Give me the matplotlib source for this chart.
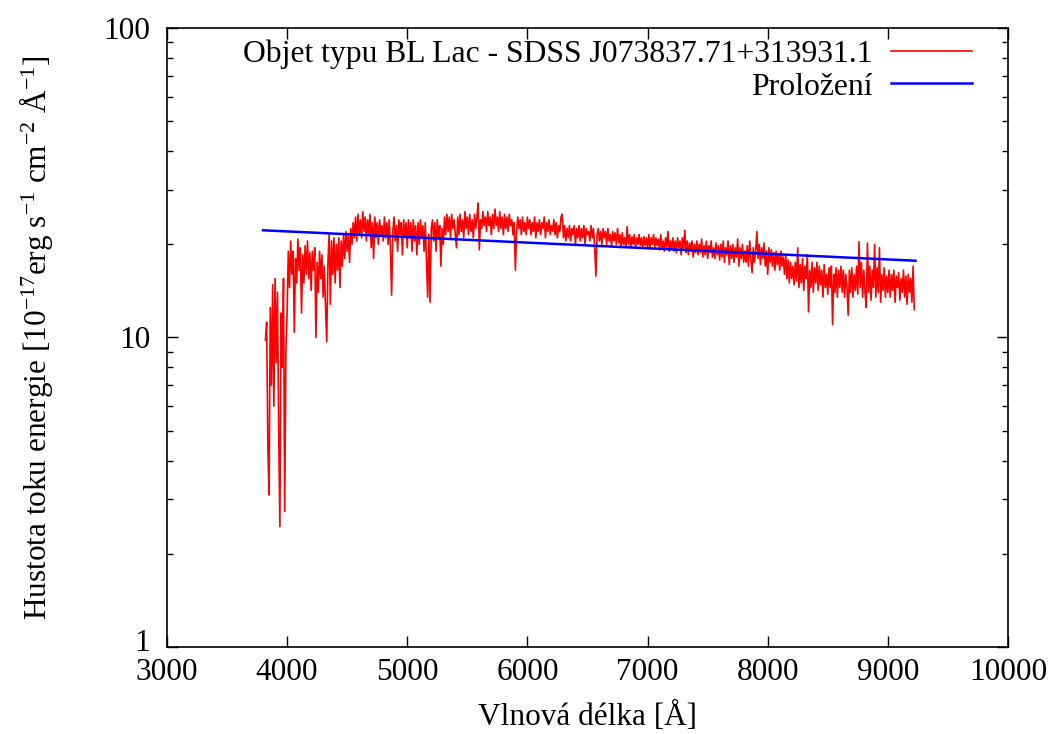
import numpy as np
import matplotlib
matplotlib.use('Agg')
import matplotlib.pyplot as plt
from matplotlib.transforms import ScaledTranslation

plt.rcParams['font.family'] = ['Liberation Serif', 'DejaVu Serif']
plt.rcParams['mathtext.fontset'] = 'custom'
plt.rcParams['mathtext.rm'] = 'Liberation Serif'
plt.rcParams['mathtext.it'] = 'Liberation Serif:italic'

# wavelength grid of the spectrum [A], step 10 A
wavelength = np.arange(3820, 9221, 10)

# flux, one row = 200 A
flux = [
    9.8, 11.2, 4.4, 3.1, 12.5, 7.0, 14.8, 6.0, 15.5, 8.3, 14.0, 5.0, 2.45, 12.0, 8.0, 15.5, 2.74, 9.0, 12.0, 19.0,
    14.5, 20.5, 16.0, 19.0, 10.4, 18.0, 15.0, 20.8, 16.5, 19.5, 12.0, 18.5, 15.0, 19.8, 16.0, 20.5, 15.5, 18.8, 14.2, 19.0,
    16.5, 19.5, 10.0, 17.5, 14.0, 19.0, 15.5, 18.5, 13.5, 17.0, 12.5, 9.7, 17.5, 21.5, 12.8, 20.5, 16.0, 21.0, 15.0, 20.0,
    16.5, 21.0, 14.5, 20.5, 17.0, 21.5, 18.0, 22.0, 19.0, 21.5, 17.5, 22.5, 20.0, 23.5, 21.0, 24.5, 20.5, 25.0, 21.5, 24.0,
    21.0, 25.5, 22.0, 24.5, 20.5, 24.0, 21.5, 25.0, 19.5, 23.5, 18.0, 24.5, 21.0, 23.5, 20.0, 24.0, 21.5, 23.0, 20.5, 24.5,
    21.0, 23.5, 20.0, 24.0, 19.5, 13.7, 22.0, 24.5, 20.5, 23.0, 19.0, 24.0, 21.5, 23.5, 18.5, 24.0, 21.0, 23.5, 19.5, 24.0,
    21.0, 23.5, 19.0, 24.0, 20.5, 23.0, 18.5, 23.5, 20.0, 24.0, 21.0, 23.0, 19.0, 23.5, 18.0, 13.5, 21.5, 13.0, 22.5, 24.0,
    20.5, 23.5, 19.0, 24.0, 21.0, 23.0, 17.0, 22.5, 20.0, 24.5, 21.5, 25.0, 22.0, 24.5, 21.0, 25.0, 22.5, 24.0, 21.5, 19.5,
    24.5, 21.5, 25.0, 22.0, 24.0, 21.0, 25.5, 22.5, 24.5, 21.5, 25.0, 22.0, 24.0, 21.0, 25.0, 22.5, 24.5, 27.2, 19.2, 24.0,
    22.5, 25.5, 23.0, 24.5, 22.0, 25.5, 23.0, 24.5, 21.5, 25.0, 22.5, 26.0, 23.0, 24.5, 22.0, 25.5, 22.5, 24.5, 21.5, 25.0,
    22.5, 24.5, 22.0, 25.0, 23.0, 24.0, 21.5, 23.5, 16.5, 22.0, 24.5, 22.5, 24.0, 21.5, 24.5, 22.0, 23.5, 21.5, 24.5, 22.5,
    24.0, 21.5, 23.5, 22.0, 24.5, 21.0, 23.5, 22.0, 24.0, 21.5, 23.5, 22.5, 24.5, 21.0, 23.5, 22.0, 24.0, 21.5, 23.0, 22.0,
    24.0, 21.5, 23.5, 21.0, 23.0, 22.0, 24.5, 25.0, 21.0, 23.0, 20.5, 22.5, 21.0, 23.0, 20.5, 22.5, 21.5, 23.0, 20.0, 22.5,
    21.0, 23.0, 20.5, 22.5, 21.0, 23.0, 20.0, 22.5, 21.5, 22.0, 20.5, 23.0, 21.0, 22.5, 19.5, 15.8, 21.5, 22.5, 20.5, 22.0,
    20.0, 22.5, 21.0, 22.0, 20.0, 22.5, 20.5, 21.5, 19.8, 22.0, 20.5, 21.8, 20.0, 22.5, 20.2, 21.5, 19.5, 21.8, 20.0, 21.0,
    19.5, 22.8, 20.0, 21.5, 19.5, 21.2, 20.0, 21.5, 19.5, 21.0, 20.0, 21.5, 19.8, 21.0, 19.5, 21.2, 19.8, 21.0, 19.5, 21.5,
    19.5, 21.0, 20.0, 21.5, 19.5, 21.0, 19.8, 20.8, 19.2, 21.5, 19.5, 20.5, 19.0, 21.0, 19.5, 22.0, 19.0, 20.5, 19.2, 21.0,
    19.0, 20.5, 18.8, 21.0, 19.5, 20.5, 18.5, 21.0, 19.2, 22.2, 18.8, 20.5, 18.5, 20.2, 19.0, 20.5, 18.2, 20.0, 18.8, 20.5,
    18.5, 20.0, 18.8, 20.8, 18.2, 19.8, 18.5, 20.5, 18.0, 19.8, 18.8, 20.5, 18.2, 19.5, 18.0, 20.2, 18.5, 19.8, 17.8, 20.0,
    18.2, 20.5, 17.5, 19.5, 18.5, 20.5, 17.2, 19.8, 18.0, 20.0, 17.5, 19.5, 18.2, 20.8, 17.0, 19.5, 18.0, 20.0, 17.5, 19.0,
    17.5, 19.8, 17.0, 20.5, 18.0, 16.2, 19.5, 17.5, 19.0, 22.0, 18.0, 20.0, 17.2, 19.5, 18.0, 20.2, 17.0, 19.0, 16.0, 19.5,
    17.5, 19.2, 17.0, 18.8, 16.5, 19.0, 17.2, 18.5, 16.5, 19.0, 17.0, 18.2, 16.0, 18.5, 15.5, 17.8, 15.0, 17.5, 15.5, 17.0,
    14.8, 17.5, 15.2, 19.5, 14.5, 17.2, 15.0, 18.0, 14.2, 17.0, 15.5, 18.5, 12.1, 16.5, 14.5, 17.5, 14.0, 16.8, 15.0, 17.5,
    14.2, 17.0, 14.8, 16.5, 13.5, 17.2, 14.5, 16.0, 13.8, 16.8, 14.5, 17.0, 11.0, 16.0, 14.0, 16.8, 13.5, 16.5, 14.5, 17.0,
    14.0, 16.5, 13.5, 16.0, 14.5, 11.8, 16.5, 14.0, 16.8, 13.5, 16.0, 14.2, 17.0, 13.8, 20.4, 14.5, 17.5, 13.5, 16.5, 14.0,
    12.5, 20.2, 14.0, 17.0, 13.2, 16.5, 14.5, 20.0, 13.5, 16.8, 14.0, 19.5, 13.0, 16.0, 14.2, 16.8, 13.5, 15.8, 14.0, 16.5,
    13.5, 16.0, 14.2, 16.5, 13.0, 15.8, 14.5, 16.2, 13.2, 15.5, 14.0, 16.5, 13.5, 15.8, 12.8, 16.0, 14.0, 15.5, 13.0, 17.0,
    12.3,
]

# fitted continuum
fit_wavelength = [3800, 9230]
fit_flux = [22.2, 17.7]

label_spec = 'Objet typu BL Lac - SDSS J073837.71+313931.1'
label_fit = 'Proložení'

fig = plt.figure(figsize=(10.5, 7.34), dpi=100)
ax = fig.add_axes([0.159, 0.1185, 0.801, 0.8434])

ax.plot(wavelength, flux, color='#ff0000', lw=1.2, label=label_spec)
ax.plot(fit_wavelength, fit_flux, color='#0000ff', lw=1.8, label=label_fit)

ax.set_yscale('log')
ax.set_xlim(3000, 10000)
ax.set_ylim(1, 100)
ax.set_xticks(range(3000, 10001, 1000))
ax.set_yticks([1, 10, 100])
ax.set_yticklabels(['1', '10', '100'])

ax.tick_params(which='both', direction='in', top=True, right=True, labelsize=22.5)
ax.tick_params(which='major', length=8, width=1)
ax.tick_params(which='minor', length=4, width=1)
ax.tick_params(axis='y', pad=12)
ax.tick_params(axis='x', pad=8)
for s in ax.spines.values():
    s.set_linewidth(1.2)

# lift the "1" a little so it does not run into "3000"
lab = ax.yaxis.get_majorticklabels()[0]
lab.set_transform(lab.get_transform() + ScaledTranslation(0, 5 / 72, fig.dpi_scale_trans))

ax.set_xlabel('Vlnová délka [Å]', fontsize=22.5, labelpad=11)
ax.set_ylabel('Hustota toku energie [10$^{-17}$erg s$^{-1}$ cm$^{-2}$ Å$^{-1}$]',
              fontsize=22.5, labelpad=35)

ax.legend(loc='upper right', bbox_to_anchor=(0.957, 0.982), frameon=False,
          markerfirst=False, fontsize=22.8, handlelength=2.55, handletextpad=0.6,
          borderaxespad=0, borderpad=0, labelspacing=0.12)

fig.savefig('out.png', dpi=100)
